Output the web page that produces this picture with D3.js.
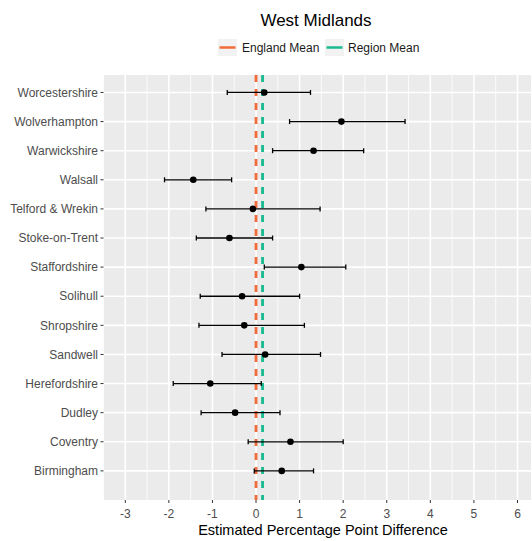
<!DOCTYPE html>
<html>
<head>
<meta charset="utf-8">
<script src="https://cdn.jsdelivr.net/npm/d3@7"></script>
<style>
  html, body { margin: 0; padding: 0; background: #fff; }
  svg { display: block; font-family: "Liberation Sans", Arial, sans-serif; }
</style>
</head>
<body>
<svg id="chart" width="532" height="541"></svg>
<script>
// ---- data (bottom to top) ----
const areas = ["Birmingham", "Coventry", "Dudley", "Herefordshire", "Sandwell", "Shropshire", "Solihull",
  "Staffordshire", "Stoke-on-Trent", "Telford & Wrekin", "Walsall", "Warwickshire", "Wolverhampton", "Worcestershire"];
const estimate = [0.59, 0.79, -0.48, -1.05, 0.21, -0.27, -0.32, 1.04, -0.61, -0.07, -1.44, 1.32, 1.96, 0.19];
const lower    = [-0.04, -0.18, -1.26, -1.90, -0.78, -1.31, -1.28, 0.19, -1.37, -1.15, -2.10, 0.38, 0.77, -0.66];
const upper    = [1.32, 2.00, 0.55, 0.12, 1.48, 1.11, 1.00, 2.06, 0.38, 1.47, -0.56, 2.47, 3.42, 1.25];
const xTicks = [-3, -2, -1, 0, 1, 2, 3, 4, 5, 6];
const englandMean = 0;
const regionMean = 0.15;
const titleText = "West Midlands";
const xLabel = "Estimated Percentage Point Difference";
const legendLabels = ["England Mean", "Region Mean"];
const legendColors = ["#F26B3A", "#17BA8E"];

// ---- layout ----
const svg = d3.select("#chart");
const P = { left: 103.5, right: 531, top: 75, bottom: 500 };

const x = d3.scaleLinear().domain([-3.5, 6.31]).range([P.left, P.right]);
const y = d3.scaleLinear().domain([0, 14.6]).range([P.bottom, P.top]);
const yPos = i => y(i + 1);

// panel background
svg.append("rect").attr("x", P.left).attr("y", P.top)
  .attr("width", P.right - P.left).attr("height", P.bottom - P.top).attr("fill", "#EBEBEB");

const grid = svg.append("g");
// minor vertical gridlines
d3.range(-3.5, 6.5, 1).forEach(v => {
  if (x(v) >= P.left && x(v) <= P.right)
    grid.append("line").attr("x1", x(v)).attr("x2", x(v)).attr("y1", P.top).attr("y2", P.bottom)
      .attr("stroke", "#fff").attr("stroke-width", 0.8);
});
// major vertical gridlines
xTicks.forEach(v => {
  grid.append("line").attr("x1", x(v)).attr("x2", x(v)).attr("y1", P.top).attr("y2", P.bottom)
    .attr("stroke", "#fff").attr("stroke-width", 1.6);
});
// horizontal gridlines
areas.forEach((a, i) => {
  grid.append("line").attr("x1", P.left).attr("x2", P.right).attr("y1", yPos(i)).attr("y2", yPos(i))
    .attr("stroke", "#fff").attr("stroke-width", 1.6);
});

// mean lines
[[englandMean, legendColors[0]], [regionMean, legendColors[1]]].forEach(([v, c]) => {
  svg.append("line").attr("x1", x(v)).attr("x2", x(v)).attr("y1", P.top).attr("y2", P.bottom)
    .attr("stroke", c).attr("stroke-width", 2.8).attr("stroke-dasharray", "7,7");
});

// error bars
const eb = svg.append("g");
areas.forEach((a, i) => {
  const yy = yPos(i);
  eb.append("line").attr("x1", x(lower[i])).attr("x2", x(upper[i])).attr("y1", yy).attr("y2", yy)
    .attr("stroke", "#000").attr("stroke-width", 1.3);
  [lower[i], upper[i]].forEach(v => {
    eb.append("line").attr("x1", x(v)).attr("x2", x(v)).attr("y1", yy - 2.5).attr("y2", yy + 2.5)
      .attr("stroke", "#000").attr("stroke-width", 1.3);
  });
  eb.append("circle").attr("cx", x(estimate[i])).attr("cy", yy).attr("r", 3.3).attr("fill", "#000");
});

// x axis
const xa = svg.append("g");
xTicks.forEach(v => {
  xa.append("line").attr("x1", x(v)).attr("x2", x(v)).attr("y1", P.bottom).attr("y2", P.bottom + 3)
    .attr("stroke", "#333").attr("stroke-width", 1);
  xa.append("text").attr("x", x(v)).attr("y", P.bottom + 18).attr("text-anchor", "middle")
    .attr("font-size", 12).attr("fill", "#4D4D4D").text(v);
});
svg.append("text").attr("x", 323).attr("y", 535).attr("text-anchor", "middle")
  .attr("font-size", 14.5).attr("fill", "#000").text(xLabel);

// y axis
const ya = svg.append("g");
areas.forEach((a, i) => {
  const yy = yPos(i);
  ya.append("line").attr("x1", P.left - 3).attr("x2", P.left).attr("y1", yy).attr("y2", yy)
    .attr("stroke", "#333").attr("stroke-width", 1);
  ya.append("text").attr("x", P.left - 5.5).attr("y", yy).attr("dy", "0.35em").attr("text-anchor", "end")
    .attr("font-size", 12).attr("fill", "#4D4D4D").text(a);
});

// title
svg.append("text").attr("x", 316).attr("y", 26).attr("text-anchor", "middle")
  .attr("font-size", 17).attr("fill", "#000").text(titleText);

// legend
const lg = svg.append("g");
const keyX = [218, 325];
const textX = [242, 348];
legendLabels.forEach((l, i) => {
  lg.append("rect").attr("x", keyX[i]).attr("y", 39).attr("width", 19).attr("height", 17).attr("fill", "#F2F2F2");
  lg.append("line").attr("x1", keyX[i] + 1.5).attr("x2", keyX[i] + 17.5).attr("y1", 47.5).attr("y2", 47.5)
    .attr("stroke", legendColors[i]).attr("stroke-width", 2.5);
  lg.append("text").attr("x", textX[i]).attr("y", 48).attr("dy", "0.35em")
    .attr("font-size", 12).attr("fill", "#1A1A1A").text(l);
});
</script>
</body>
</html>
